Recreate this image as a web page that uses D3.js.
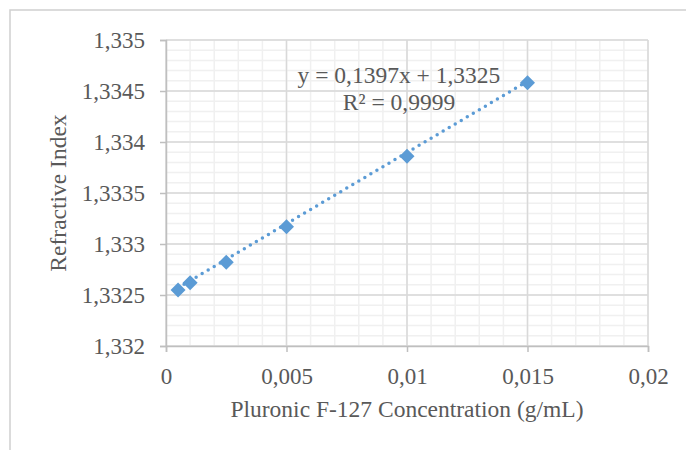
<!DOCTYPE html>
<html>
<head>
<meta charset="utf-8">
<script src="https://cdn.jsdelivr.net/npm/d3@7"></script>
<style>
  body { margin: 0; background: #fff; }
  svg text { font-family: "Liberation Serif", "Times New Roman", serif; fill: #595959; }
</style>
</head>
<body>
<svg id="chart"></svg>
<script>
const width = 686;
const height = 450;

// data
const concentration = [0.0005, 0.001, 0.0025, 0.005, 0.01, 0.015];
const refractiveIndex = [1.33255, 1.33262, 1.33282, 1.33317, 1.33386, 1.33458];
const trendSlope = 0.1397;
const trendIntercept = 1.3325;
const equationLines = ["y = 0,1397x + 1,3325", "R² = 0,9999"];
const xTicks = [0, 0.005, 0.01, 0.015, 0.02];
const yTicks = [1.332, 1.3325, 1.333, 1.3335, 1.334, 1.3345, 1.335];

const margin = { top: 40, right: 38, bottom: 104, left: 166 };
const blue = "#5b9bd5";

const locale = d3.formatLocale({ decimal: ",", thousands: ".", grouping: [3], currency: ["", ""] });
const fmt = locale.format(".4~f");

const svg = d3.select("#chart")
    .attr("width", width)
    .attr("height", height);

// outer chart border (runs off the right and bottom)
svg.append("rect")
    .attr("x", 10).attr("y", 10)
    .attr("width", 720).attr("height", 480)
    .attr("fill", "none")
    .attr("stroke", "#d0d0d0")
    .attr("stroke-width", 1.5);

const x = d3.scaleLinear().domain([0, 0.02]).range([margin.left, width - margin.right]);
const y = d3.scaleLinear().domain([1.332, 1.335]).range([height - margin.bottom, margin.top]);

// minor grid
const xMinor = d3.range(0, 0.02001, 0.001);
const yMinor = d3.range(0, 31).map(i => 1.332 + i * 0.0001);

svg.append("g").selectAll("line")
    .data(xMinor)
    .join("line")
    .attr("x1", d => x(d)).attr("x2", d => x(d))
    .attr("y1", y.range()[1]).attr("y2", y.range()[0])
    .attr("stroke", "#f0f0f0").attr("stroke-width", 1.5);

svg.append("g").selectAll("line")
    .data(yMinor)
    .join("line")
    .attr("y1", d => y(d)).attr("y2", d => y(d))
    .attr("x1", x.range()[0]).attr("x2", x.range()[1])
    .attr("stroke", "#f0f0f0").attr("stroke-width", 1.5);

// major grid
svg.append("g").selectAll("line")
    .data(xTicks)
    .join("line")
    .attr("x1", d => x(d)).attr("x2", d => x(d))
    .attr("y1", y.range()[1]).attr("y2", y.range()[0])
    .attr("stroke", "#d9d9d9").attr("stroke-width", 1.5);

svg.append("g").selectAll("line")
    .data(yTicks)
    .join("line")
    .attr("y1", d => y(d)).attr("y2", d => y(d))
    .attr("x1", x.range()[0]).attr("x2", x.range()[1])
    .attr("stroke", "#d9d9d9").attr("stroke-width", 1.5);

// axes
const xAxis = svg.append("g")
    .attr("transform", `translate(0,${y.range()[0]})`)
    .call(d3.axisBottom(x).tickValues(xTicks).tickFormat(fmt).tickSize(6).tickPadding(16));

const yAxis = svg.append("g")
    .attr("transform", `translate(${x.range()[0]},0)`)
    .call(d3.axisLeft(y).tickValues(yTicks).tickFormat(fmt).tickSize(6).tickPadding(15));

[xAxis, yAxis].forEach(a => {
    a.select(".domain").attr("stroke", "#bfbfbf").attr("stroke-width", 1.5);
    a.selectAll(".tick line").attr("stroke", "#bfbfbf").attr("stroke-width", 1.5);
    a.selectAll(".tick text")
        .attr("fill", "#595959")
        .style("font-size", "23px")
        .style("font-family", '"Liberation Serif", "Times New Roman", serif');
});

// axis titles
svg.append("text")
    .attr("x", (x.range()[0] + x.range()[1]) / 2)
    .attr("y", 417)
    .attr("text-anchor", "middle")
    .style("font-size", "23.5px")
    .text("Pluronic F-127 Concentration (g/mL)");

svg.append("text")
    .attr("transform", `translate(66,${(y.range()[0] + y.range()[1]) / 2}) rotate(-90)`)
    .attr("text-anchor", "middle")
    .style("font-size", "23.5px")
    .text("Refractive Index");

// trendline
const xExtent = d3.extent(concentration);
svg.append("line")
    .attr("x1", x(xExtent[0])).attr("y1", y(trendSlope * xExtent[0] + trendIntercept))
    .attr("x2", x(xExtent[1])).attr("y2", y(trendSlope * xExtent[1] + trendIntercept))
    .attr("stroke", blue)
    .attr("stroke-width", 3.5)
    .attr("stroke-linecap", "round")
    .attr("stroke-dasharray", "0 7");

// markers
svg.append("g").selectAll("path")
    .data(concentration.map((c, i) => [c, refractiveIndex[i]]))
    .join("path")
    .attr("transform", d => `translate(${x(d[0])},${y(d[1])})`)
    .attr("d", "M0,-7.5L7.5,0L0,7.5L-7.5,0Z")
    .attr("fill", blue);

// equation label
svg.append("g").selectAll("text")
    .data(equationLines)
    .join("text")
    .attr("x", 399)
    .attr("y", (d, i) => 83 + i * 27)
    .attr("text-anchor", "middle")
    .style("font-size", "23.5px")
    .text(d => d);
</script>
</body>
</html>
